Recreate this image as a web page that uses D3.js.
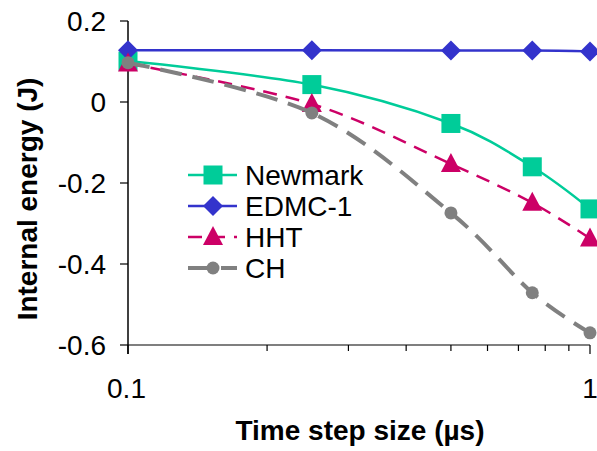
<!DOCTYPE html>
<html><head><meta charset="utf-8">
<script src="https://cdn.jsdelivr.net/npm/d3@7"></script>
<style>html,body{margin:0;padding:0;background:#fff;}svg{display:block;font-family:Arial,"Liberation Sans",sans-serif;}</style>
</head><body>
<svg id="c" width="597" height="451"></svg>
<script>
const steps = [0.1, 0.25, 0.5, 0.75, 1];
const newmark = [0.101, 0.043, -0.053, -0.160, -0.264];
const edmc = [0.128, 0.128, 0.127, 0.127, 0.125];
const hht = [0.095, -0.005, -0.153, -0.249, -0.337];
const ch = [0.097, -0.027, -0.274, -0.471, -0.570];
const seriesNames = ["Newmark", "EDMC-1", "HHT", "CH"];
const yTicks = [0.2, 0, -0.2, -0.4, -0.6];
const yTickLabels = ["0.2", "0", "-0.2", "-0.4", "-0.6"];
const xTicks = [0.1, 1];
const xTickLabels = ["0.1", "1"];
const xMinor = [0.2, 0.3, 0.4, 0.5, 0.6, 0.7, 0.8, 0.9];

const styles = [
  {color: "#00CC99", width: 2.5, dash: null, marker: "square"},
  {color: "#3333CC", width: 2.5, dash: null, marker: "diamond"},
  {color: "#CC0066", width: 2.5, dash: "14,9", marker: "triangle"},
  {color: "#808080", width: 4, dash: "22,11", marker: "circle"}
];
const data = [newmark, edmc, hht, ch];

const svg = d3.select("#c");
const x = d3.scaleLog().domain([0.1, 1]).range([128, 590]);
const y = d3.scaleLinear().domain([-0.6, 0.2]).range([345, 21]);
const FS = 28;

// axes
svg.append("line").attr("x1", 128).attr("x2", 590).attr("y1", y(-0.6)).attr("y2", y(-0.6))
  .attr("stroke", "#555").attr("stroke-width", 1.5);
svg.append("line").attr("x1", 128).attr("x2", 128).attr("y1", y(0.2)).attr("y2", y(-0.6) + 9)
  .attr("stroke", "#000").attr("stroke-width", 1.5);
const yg = svg.append("g");
yTicks.forEach((t, i) => {
  yg.append("line").attr("x1", 120).attr("x2", 128).attr("y1", y(t)).attr("y2", y(t)).attr("stroke", "#000").attr("stroke-width", 1.2);
  yg.append("text").attr("x", 106).attr("y", y(t)).attr("dy", "0.36em").attr("text-anchor", "end")
    .attr("font-size", FS).text(yTickLabels[i]);
});
xMinor.forEach(t => {
  svg.append("line").attr("x1", x(t)).attr("x2", x(t)).attr("y1", y(-0.6)).attr("y2", y(-0.6) + 6).attr("stroke", "#000").attr("stroke-width", 1.2);
});
xTicks.forEach((t, i) => {
  svg.append("line").attr("x1", x(t)).attr("x2", x(t)).attr("y1", y(-0.6)).attr("y2", y(-0.6) + 9).attr("stroke", "#000").attr("stroke-width", 1.2);
  svg.append("text").attr("x", x(t) - (i === 0 ? 1.5 : 0)).attr("y", 388).attr("dy", "0.36em").attr("text-anchor", "middle")
    .attr("font-size", FS).text(xTickLabels[i]);
});

svg.append("text").attr("x", 360).attr("y", 440).attr("text-anchor", "middle")
  .attr("font-size", FS).attr("font-weight", "bold").text("Time step size (µs)");
svg.append("text").attr("transform", "translate(37,199) rotate(-90)").attr("text-anchor", "middle")
  .attr("font-size", FS).attr("font-weight", "bold").text("Internal energy (J)");

function drawMarker(g, type, cx, cy, color) {
  if (type === "square") g.append("rect").attr("x", cx - 9.5).attr("y", cy - 9.5).attr("width", 19).attr("height", 19).attr("fill", color);
  else if (type === "diamond") g.append("path").attr("d", `M${cx},${cy-10}L${cx+10},${cy}L${cx},${cy+10}L${cx-10},${cy}Z`).attr("fill", color);
  else if (type === "triangle") g.append("path").attr("d", `M${cx},${cy-11}L${cx+10},${cy+8}L${cx-10},${cy+8}Z`).attr("fill", color);
  else g.append("circle").attr("cx", cx).attr("cy", cy).attr("r", 6.5).attr("fill", color);
}

const line = d3.line().x(d => x(d[0])).y(d => y(d[1])).curve(d3.curveCardinal.tension(0));
data.forEach((vals, si) => {
  const st = styles[si];
  const pts = steps.map((s, i) => [s, vals[i]]);
  const g = svg.append("g");
  g.append("path").attr("d", line(pts)).attr("fill", "none").attr("stroke", st.color)
    .attr("stroke-width", st.width).attr("stroke-dasharray", st.dash);
  pts.forEach(p => drawMarker(g, st.marker, x(p[0]), y(p[1]), st.color));
});

// legend
const legY0 = 175, legStep = 31;
seriesNames.forEach((n, i) => {
  const st = styles[i];
  const ly = legY0 + i * legStep;
  const g = svg.append("g");
  g.append("line").attr("x1", 188).attr("x2", 237).attr("y1", ly).attr("y2", ly).attr("stroke", st.color)
    .attr("stroke-width", st.width).attr("stroke-dasharray", st.dash);
  drawMarker(g, st.marker, 213, ly, st.color);
  g.append("text").attr("x", 245).attr("y", ly).attr("dy", "0.36em").attr("font-size", FS).text(n);
});
</script>
</body></html>
